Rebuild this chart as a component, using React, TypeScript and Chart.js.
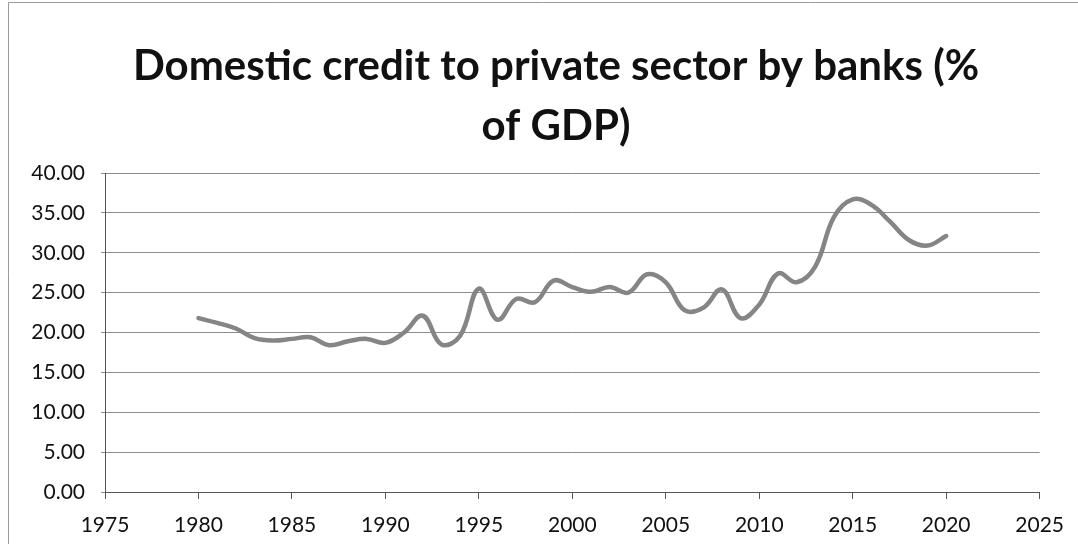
import { useEffect, useRef } from "react";
import { Chart, registerables } from "chart.js";

Chart.register(...registerables);

const years = [
  1980, 1981, 1982, 1983, 1984, 1985, 1986, 1987, 1988, 1989,
  1990, 1991, 1992, 1993, 1994, 1995, 1996, 1997, 1998, 1999,
  2000, 2001, 2002, 2003, 2004, 2005, 2006, 2007, 2008, 2009,
  2010, 2011, 2012, 2013, 2014, 2015, 2016, 2017, 2018, 2019, 2020,
];
const creditValues = [
  21.8, 21.2, 20.5, 19.3, 19.0, 19.2, 19.4, 18.4, 18.9, 19.2,
  18.7, 20.0, 22.1, 18.5, 19.6, 25.5, 21.6, 24.2, 23.8, 26.5,
  25.7, 25.1, 25.7, 25.0, 27.3, 26.3, 22.8, 23.1, 25.4, 21.8,
  23.5, 27.4, 26.3, 28.3, 34.5, 36.7, 36.0, 33.9, 31.6, 30.9, 32.1,
];
const xTickValues = [1975, 1980, 1985, 1990, 1995, 2000, 2005, 2010, 2015, 2020, 2025];
const yTickValues = [0, 5, 10, 15, 20, 25, 30, 35, 40];
const titleLines = ["Domestic credit to private sector by banks (%", "of GDP)"];

export default function App() {
  const ref = useRef<HTMLCanvasElement>(null);

  useEffect(() => {
    if (!ref.current) return;
    const framePlugin = {
      id: "frame",
      beforeDraw(chart: any) {
        const ctx = chart.ctx;
        ctx.save();
        ctx.fillStyle = "#ffffff";
        ctx.fillRect(0, 0, chart.width, chart.height);
        ctx.strokeStyle = "#9a9a9a";
        ctx.lineWidth = 1;
        ctx.beginPath();
        ctx.moveTo(8.5, 544);
        ctx.lineTo(8.5, 2.5);
        ctx.lineTo(1078, 2.5);
        ctx.stroke();
        ctx.restore();
      },
      afterDraw(chart: any) {
        const ctx = chart.ctx;
        ctx.save();
        ctx.fillStyle = "#111111";
        ctx.font = "bold 42px Lato";
        ctx.textAlign = "center";
        ctx.textBaseline = "alphabetic";
        ctx.fillText(titleLines[0], 556, 80);
        ctx.fillText(titleLines[1], 556, 140);
        ctx.restore();
      },
    };

    const chart = new Chart(ref.current, {
      type: "scatter",
      data: {
        datasets: [
          {
            data: years.map((y, i) => ({ x: y, y: creditValues[i] })),
            showLine: true,
            borderColor: "#858585",
            borderWidth: 4.5,
            borderCapStyle: "round",
            borderJoinStyle: "round",
            tension: 0.4,
            pointRadius: 0,
            pointHoverRadius: 0,
          },
        ],
      },
      options: {
        animation: false,
        responsive: false,
        events: [],
        layout: { padding: { left: 0, right: 37, top: 173, bottom: 0 } },
        plugins: {
          legend: { display: false },
          tooltip: { enabled: false },
          title: { display: false },
        },
        scales: {
          x: {
            type: "linear",
            min: 1975,
            max: 2025,
            afterBuildTicks: (s: any) => {
              s.ticks = xTickValues.map((v) => ({ value: v }));
            },
            ticks: {
              font: { family: "Lato", size: 21 },
              color: "#111111",
              padding: 14,
              maxRotation: 0,
              autoSkip: false,
              callback: (v: any) => String(v),
            },
            grid: { drawOnChartArea: false, drawTicks: true, tickLength: 7, color: "#555555" },
            border: { color: "#555555", width: 1 },
            afterFit: (s: any) => {
              s.height = 52;
            },
          },
          y: {
            min: 0,
            max: 40,
            afterBuildTicks: (s: any) => {
              s.ticks = yTickValues.map((v) => ({ value: v }));
            },
            ticks: {
              font: { family: "Lato", size: 21 },
              color: "#111111",
              padding: 16,
              callback: (v: any) => Number(v).toFixed(2),
            },
            grid: { color: "#8c8c8c", tickLength: 4, lineWidth: 1 },
            border: { color: "#555555", width: 1 },
            afterFit: (s: any) => {
              s.width = 105;
            },
          },
        },
      },
      plugins: [framePlugin],
    } as any);

    return () => chart.destroy();
  }, []);

  return (
    <div style={{ position: "fixed", left: 0, top: 0, width: 1078, height: 544, background: "#fff" }}>
      <canvas ref={ref} width={1078} height={544} style={{ width: 1078, height: 544, display: "block" }} />
    </div>
  );
}
